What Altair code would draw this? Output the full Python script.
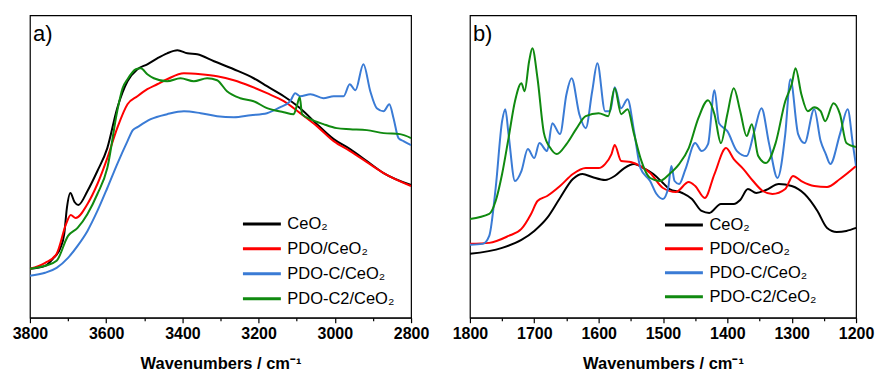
import altair as alt
import pandas as pd

# ---- series names and colours ----
SERIES = ["CeO₂", "PDO/CeO₂", "PDO-C/CeO₂", "PDO-C2/CeO₂"]
COLORS = ["#000000", "#ff0000", "#3a7bd5", "#108a10"]

# ---- panel a: O-H / C-H stretching region (absorbance, arbitrary units) ----
a_ceo2_wn = [3800, 3760, 3740, 3720, 3710, 3703, 3694, 3683, 3673, 3649, 3623, 3597, 3571,
             3544, 3518, 3492, 3466, 3440, 3413, 3387, 3361, 3317, 3265, 3213, 3178, 3134,
             3091, 3047, 3003, 2960, 2916, 2872, 2800]
a_ceo2 = [49, 52, 59, 70, 84, 110, 125, 116, 113, 127, 147, 170, 210,
          237, 249, 254, 260, 265, 268, 265, 264, 257, 249, 240, 232, 222,
          210, 194, 179, 169, 157, 145, 133]

a_pdo_wn = [3800, 3760, 3730, 3705, 3693, 3680, 3649, 3623, 3597, 3571, 3544, 3518, 3492,
            3466, 3440, 3396, 3352, 3309, 3265, 3221, 3178, 3134, 3091, 3047, 3003, 2960,
            2916, 2872, 2800]
a_pdo = [49, 55, 64, 94, 103, 100, 114, 134, 160, 190, 214, 222, 229,
         234, 239, 245, 244, 242, 238, 232, 225, 217, 205, 192, 177, 167,
         156, 145, 132]

a_pdoc_wn = [3800, 3760, 3730, 3700, 3675, 3649, 3623, 3597, 3571, 3544, 3530, 3518, 3483,
             3440, 3396, 3352, 3309, 3265, 3221, 3178, 3143, 3117, 3104, 3091, 3064, 3030,
             3003, 2977, 2961, 2946, 2925, 2907, 2890, 2872, 2857, 2846, 2833, 2820, 2800]
a_pdoc = [42, 45, 50, 60, 72, 87, 107, 130, 154, 177, 188, 191, 199,
          204, 207, 205, 202, 201, 203, 205, 211, 217, 225, 222, 224, 220,
          222, 222, 234, 228, 254, 227, 210, 207, 214, 200, 180, 177, 173]

a_pdoc2_wn = [3800, 3760, 3730, 3700, 3675, 3649, 3623, 3597, 3571, 3557, 3544, 3522, 3509,
              3492, 3475, 3440, 3405, 3370, 3335, 3309, 3283, 3248, 3213, 3178, 3134, 3108,
              3100, 3092, 3086, 3064, 3030, 2995, 2960, 2916, 2872, 2829, 2800]
a_pdoc2 = [49, 52, 57, 82, 90, 104, 124, 150, 207, 230, 239, 249, 250,
           244, 240, 237, 240, 237, 240, 238, 227, 220, 217, 210, 206, 204,
           212, 221, 204, 199, 194, 190, 189, 188, 185, 184, 180]

# ---- panel b: fingerprint region ----
b_ceo2_wn = [1800, 1750, 1720, 1700, 1680, 1660, 1640, 1625, 1610, 1590, 1575, 1560, 1545,
             1530, 1515, 1500, 1490, 1470, 1455, 1440, 1428, 1410, 1400, 1390, 1380, 1368,
             1355, 1340, 1320, 1300, 1280, 1260, 1245, 1230, 1215, 1200]
b_ceo2 = [64, 70, 78, 87, 100, 120, 139, 144, 141, 138, 142, 150, 154,
          150, 144, 135, 129, 125, 119, 107, 105, 114, 114, 114, 118, 129,
          125, 128, 134, 132, 124, 107, 90, 86, 87, 90]

b_pdo_wn = [1800, 1770, 1740, 1720, 1705, 1695, 1680, 1660, 1640, 1620, 1600, 1590, 1580,
            1575, 1565, 1550, 1535, 1520, 1500, 1480, 1460, 1450, 1435, 1420, 1402, 1390,
            1375, 1360, 1345, 1330, 1310, 1298, 1285, 1265, 1245, 1225, 1200]
b_pdo = [74, 75, 82, 89, 104, 117, 122, 132, 144, 150, 150, 154, 164,
         173, 157, 156, 152, 145, 130, 126, 136, 132, 120, 144, 170, 159,
         149, 137, 127, 124, 129, 142, 137, 132, 131, 139, 152]

b_pdoc_wn = [1800, 1780, 1770, 1760, 1750, 1745, 1740, 1730, 1720, 1710, 1700, 1692, 1680,
             1672, 1660, 1650, 1642, 1630, 1620, 1610, 1602, 1590, 1582, 1575, 1565, 1555,
             1545, 1535, 1520, 1510, 1500, 1492, 1487, 1482, 1475, 1465, 1450, 1440, 1430,
             1420, 1413, 1400, 1385, 1370, 1358, 1347, 1335, 1322, 1310, 1302, 1290, 1280,
             1265, 1255, 1247, 1240, 1225, 1213, 1205, 1200]
b_pdoc = [73, 74, 82, 130, 197, 209, 184, 137, 147, 169, 160, 175, 167,
          195, 184, 224, 240, 204, 190, 227, 255, 207, 207, 231, 210, 219,
          187, 150, 137, 124, 119, 130, 152, 137, 134, 149, 175, 167, 174,
          228, 195, 187, 167, 162, 187, 210, 174, 140, 184, 239, 184, 175,
          209, 177, 164, 154, 184, 209, 174, 152]

b_pdoc2_wn = [1800, 1770, 1760, 1750, 1740, 1730, 1720, 1715, 1708, 1703, 1695, 1685, 1675,
              1665, 1650, 1635, 1620, 1600, 1585, 1575, 1565, 1555, 1545, 1535, 1520, 1505,
              1490, 1475, 1460, 1445, 1430, 1420, 1410, 1400, 1390, 1380, 1370, 1362, 1352,
              1340, 1325, 1310, 1300, 1294, 1285, 1275, 1265, 1255, 1248, 1235, 1225, 1215,
              1200]
b_pdoc2 = [99, 104, 117, 144, 180, 217, 235, 227, 257, 270, 240, 185, 170,
           164, 174, 189, 202, 205, 202, 230, 204, 209, 184, 160, 140, 137,
           144, 154, 170, 200, 218, 204, 175, 204, 230, 207, 182, 194, 162,
           155, 175, 217, 234, 250, 224, 207, 211, 207, 197, 215, 204, 175,
           171]

# ---- axis tick positions ----
A_MAJOR = [3800, 3600, 3400, 3200, 3000, 2800]
A_MINOR = [3700, 3500, 3300, 3100, 2900]
B_MAJOR = [1800, 1700, 1600, 1500, 1400, 1300, 1200]
B_MINOR = [1750, 1650, 1550, 1450, 1350, 1250]


def long_frame(pairs):
    rows = []
    for name, (wn, val) in zip(SERIES, pairs):
        for w, v in zip(wn, val):
            rows.append({"series": name, "wn": w, "absorbance": v})
    return pd.DataFrame(rows)


df_a = long_frame([(a_ceo2_wn, a_ceo2), (a_pdo_wn, a_pdo),
                   (a_pdoc_wn, a_pdoc), (a_pdoc2_wn, a_pdoc2)])
df_b = long_frame([(b_ceo2_wn, b_ceo2), (b_pdo_wn, b_pdo),
                   (b_pdoc_wn, b_pdoc), (b_pdoc2_wn, b_pdoc2)])

FONT = "Liberation Sans"
TITLE = "Wavenumbers / cm⁻¹"


def panel(df, lo, hi, major, minor, tag, width, legend_x, legend_y, row_pad):
    xscale = alt.Scale(domain=[lo, hi], reverse=True, nice=False, zero=False)
    yscale = alt.Scale(domain=[0, 303], nice=False, zero=False)

    lines = alt.Chart(df).mark_line(strokeWidth=2, interpolate="monotone", clip=True).encode(
        x=alt.X("wn:Q", scale=xscale,
                axis=alt.Axis(values=major, format="d", title=TITLE, orient="bottom",
                              tickSize=5, tickWidth=1.2, tickColor="black",
                              domainColor="black", domainWidth=1.2,
                              labelFlush=False, labelOverlap=False,
                              labelFont=FONT, labelFontSize=16, labelFontWeight="bold",
                              labelColor="black", labelPadding=3,
                              titleFont=FONT, titleFontSize=16.5, titleFontWeight="bold",
                              titleColor="black", titlePadding=14, grid=False)),
        y=alt.Y("absorbance:Q", scale=yscale, axis=None),
        color=alt.Color("series:N", sort=SERIES,
                        scale=alt.Scale(domain=SERIES, range=COLORS),
                        legend=alt.Legend(title=None, orient="none",
                                          legendX=legend_x, legendY=legend_y,
                                          symbolType="stroke", symbolSize=1444,
                                          symbolStrokeWidth=3, clipHeight=20,
                                          rowPadding=row_pad, labelOffset=5,
                                          labelFont=FONT, labelFontSize=16.5,
                                          labelColor="black", padding=0)),
    )

    minor_ticks = alt.Chart(df).mark_line(opacity=0).encode(
        x=alt.X("wn:Q", scale=xscale,
                axis=alt.Axis(values=minor, labels=False, domain=False, title=None,
                              orient="bottom", tickSize=3, tickWidth=1.2,
                              tickColor="black", grid=False)),
        y=alt.Y("absorbance:Q", scale=yscale, axis=None),
    )

    label = alt.Chart(pd.DataFrame({"tag": [tag]})).mark_text(
        align="left", baseline="alphabetic", font=FONT, fontSize=22, color="black"
    ).encode(x=alt.value(3), y=alt.value(26), text="tag:N")

    return alt.layer(lines, minor_ticks, label).resolve_axis(x="independent").properties(
        width=width, height=303)


pa = panel(df_a, 2800, 3800, A_MAJOR, A_MINOR, "a)", 382, 212, 199, 5)
pb = panel(df_b, 1200, 1800, B_MAJOR, B_MINOR, "b)", 387, 194, 200, 4)

# the end tick labels hang past each panel edge, so the gap between the
# frames is the concat spacing plus both label overhangs
chart = alt.hconcat(pa, pb, spacing=21).resolve_legend(color="independent").configure_view(
    stroke="black", strokeWidth=1.2
).properties(
    padding={"left": 11, "top": 14, "right": 0, "bottom": 0},
    background="white",
)

chart.save("out.html", embed_options={"renderer": "svg", "actions": False})
